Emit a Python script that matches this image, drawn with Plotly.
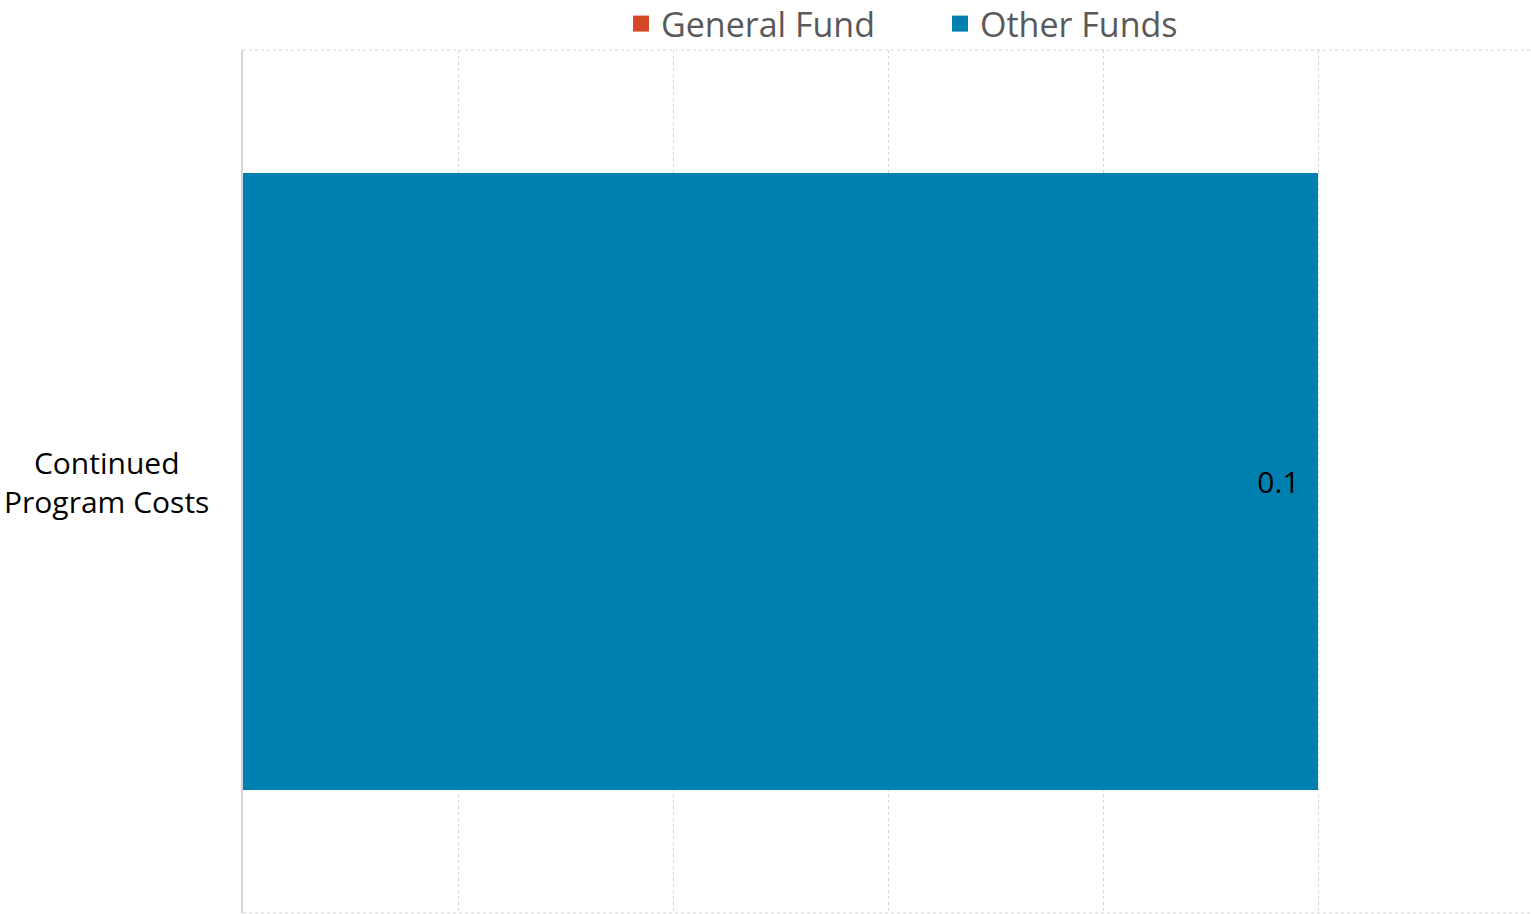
import plotly.graph_objects as go

categories = ["Continued Program Costs"]
category_labels = ["Continued<br>Program Costs"]
series_names = ["General Fund", "Other Funds"]
general_fund = [0.0]
other_funds = [0.1]
value_labels = ["0.1"]

FONT = "Open Sans"
COLORS = {"General Fund": "#D54827", "Other Funds": "#007FB1"}

fig = go.Figure()
fig.add_trace(go.Bar(
    y=categories, x=general_fund, orientation="h", name="General Fund",
    legendgroup="General Fund", showlegend=False,
    marker=dict(color=COLORS["General Fund"], line=dict(width=0)), hoverinfo="x+name",
))
fig.add_trace(go.Bar(
    y=categories, x=other_funds, orientation="h", name="Other Funds",
    legendgroup="Other Funds", showlegend=False,
    marker=dict(color=COLORS["Other Funds"], line=dict(width=0)),
    text=value_labels, texttemplate="%{text}\u00a0\u00a0",
    textposition="inside", insidetextanchor="end",
    textfont=dict(family=FONT, size=30, color="#000000"),
    textangle=0, hoverinfo="x+name",
))
# legend entries with larger square swatches
for nm in series_names:
    fig.add_trace(go.Scatter(
        x=[None], y=[None], mode="markers", name=nm, legendgroup=nm,
        marker=dict(symbol="square", size=16, color=COLORS[nm]),
        showlegend=True, hoverinfo="skip",
    ))

for cat, lab in zip(categories, category_labels):
    fig.add_annotation(
        x=-0.1056, xref="paper", xanchor="center",
        y=cat, yref="y", yanchor="middle",
        text=lab, showarrow=False, align="center",
        font=dict(family=FONT, size=30, color="#000000"),
    )

# dotted top/bottom frame lines
for yv in (0, 1):
    fig.add_shape(type="line", xref="paper", yref="paper", x0=0, x1=1, y0=yv, y1=yv,
                  line=dict(color="#D4D4D4", width=1, dash="dot"))

fig.update_layout(
    width=1531, height=914,
    margin=dict(l=243, r=0, t=50, b=1, autoexpand=False),
    paper_bgcolor="white", plot_bgcolor="white",
    barmode="stack", bargap=0.286,
    showlegend=True,
    legend=dict(orientation="h", xref="container", x=621 / 1531, xanchor="left",
                yref="container", y=1 - 24 / 914, yanchor="middle",
                font=dict(family=FONT, size=34, color="#595959"),
                itemwidth=30, traceorder="normal", entrywidth=274,
                bgcolor="rgba(0,0,0,0)"),
    font=dict(family=FONT),
    xaxis=dict(range=[0, 0.1198], dtick=0.02, tick0=0, showticklabels=False,
               showgrid=True, gridcolor="#D4D4D4", griddash="dot", gridwidth=1,
               zeroline=False, showline=False, ticks=""),
    yaxis=dict(showticklabels=False, showgrid=False, zeroline=False,
               showline=True, linecolor="#D4D4D4", linewidth=2, ticks=""),
)

fig.write_html("out.html", config={"displayModeBar": False},
               post_script="document.body.style.margin='0';")
